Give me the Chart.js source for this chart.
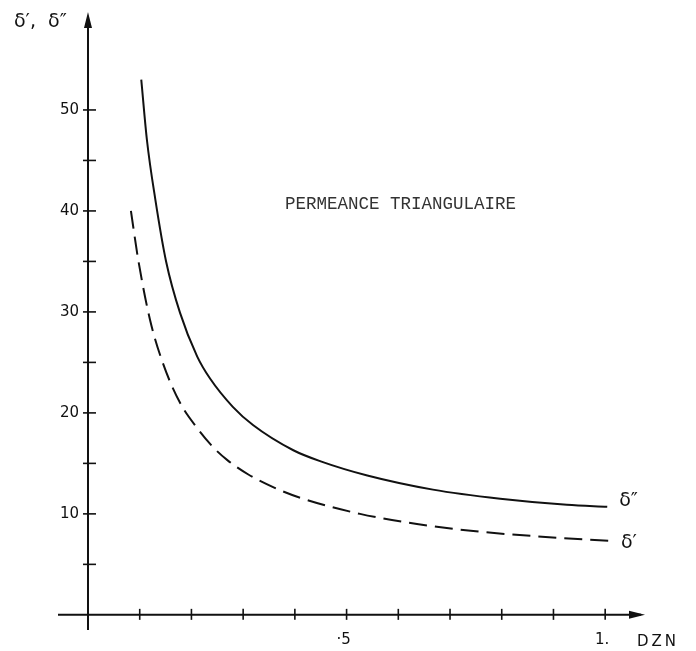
<!DOCTYPE html>
<html>
<head>
<meta charset="utf-8">
<script src="https://cdn.jsdelivr.net/npm/chart.js@4/dist/chart.umd.min.js"></script>
<style>
  html, body { margin: 0; padding: 0; background: #fff; }
  #wrap { width: 696px; height: 651px; }
</style>
</head>
<body>
<div id="wrap"><canvas id="chart"></canvas></div>
<script>
// DZN values and sigma curves
const dznSecond = [0.103, 0.114, 0.130, 0.151, 0.178, 0.211, 0.236, 0.280, 0.319, 0.397, 0.450, 0.540, 0.667, 0.797, 0.926, 1.004];
const sigmaSecond = [53.0, 47.0, 41.2, 35.0, 29.9, 25.6, 23.4, 20.6, 18.8, 16.3, 15.2, 13.8, 12.4, 11.5, 10.9, 10.7];
const dznPrime = [0.083, 0.097, 0.120, 0.145, 0.178, 0.211, 0.242, 0.270, 0.310, 0.360, 0.410, 0.526, 0.636, 0.745, 0.861, 1.015];
const sigmaPrime = [40.0, 35.2, 29.2, 24.9, 21.0, 18.5, 16.6, 15.3, 13.9, 12.6, 11.6, 10.0, 9.0, 8.3, 7.8, 7.3];

const yTicks = [5, 10, 15, 20, 25, 30, 35, 40, 45, 50];
const yLabels = ['', '10', '', '20', '', '30', '', '40', '', '50'];
const xTicks = [0.1, 0.2, 0.3, 0.4, 0.5, 0.6, 0.7, 0.8, 0.9, 1.0];
const xLabels = ['', '', '', '', '·5', '', '', '', '', '1.'];

const toPoints = (xs, ys) => xs.map((x, i) => ({ x: x, y: ys[i] }));

const ink = '#111';

const axesPlugin = {
    id: 'handAxes',
    afterDatasetsDraw(chart) {
        const { ctx } = chart;
        const xs = chart.scales.x, ys = chart.scales.y;
        const x0 = xs.getPixelForValue(0), y0 = ys.getPixelForValue(0);
        const left = chart.chartArea.left, right = chart.chartArea.right;
        const top = chart.chartArea.top, bottom = chart.chartArea.bottom;
        ctx.save();
        ctx.strokeStyle = ink;
        ctx.fillStyle = ink;
        ctx.lineWidth = 2;
        // axes
        ctx.beginPath();
        ctx.moveTo(left, y0); ctx.lineTo(right - 4, y0);
        ctx.moveTo(x0, bottom); ctx.lineTo(x0, top + 4);
        ctx.stroke();
        // arrow heads
        ctx.beginPath();
        ctx.moveTo(right, y0); ctx.lineTo(right - 16, y0 - 4); ctx.lineTo(right - 16, y0 + 4); ctx.closePath();
        ctx.moveTo(x0, top); ctx.lineTo(x0 - 4, top + 16); ctx.lineTo(x0 + 4, top + 16); ctx.closePath();
        ctx.fill();
        // y ticks + labels
        ctx.lineWidth = 1.6;
        ctx.font = '15px "DejaVu Sans"';
        ctx.textAlign = 'right';
        ctx.textBaseline = 'middle';
        yTicks.forEach((v, i) => {
            const py = ys.getPixelForValue(v);
            ctx.beginPath();
            ctx.moveTo(x0 - 5, py); ctx.lineTo(x0 + 8, py);
            ctx.stroke();
            if (yLabels[i]) ctx.fillText(yLabels[i], x0 - 9, py);
        });
        // x ticks + labels
        ctx.textAlign = 'center';
        ctx.textBaseline = 'top';
        xTicks.forEach((v, i) => {
            const px = xs.getPixelForValue(v);
            ctx.beginPath();
            ctx.moveTo(px, y0 - 6); ctx.lineTo(px, y0 + 5);
            ctx.stroke();
            if (xLabels[i]) ctx.fillText(xLabels[i], px - 3, y0 + 18);
        });
        ctx.textAlign = 'left';
        ctx.letterSpacing = '3px';
        ctx.fillText('DZN', 637, y0 + 20);
        ctx.letterSpacing = '0px';
        // axis title and curve labels
        ctx.font = '19px "DejaVu Sans"';
        ctx.textBaseline = 'middle';
        ctx.fillText("δ\u2032,  δ\u2033", 14, 22);
        ctx.font = '19px "DejaVu Sans"';
        const endS = dznSecond.length - 1, endP = dznPrime.length - 1;
        ctx.fillText("δ\u2033", xs.getPixelForValue(dznSecond[endS]) + 12, ys.getPixelForValue(sigmaSecond[endS]) - 6);
        ctx.fillText("δ\u2032", xs.getPixelForValue(dznPrime[endP]) + 8, ys.getPixelForValue(sigmaPrime[endP]) + 2);
        // inner title
        ctx.font = '17.5px "Liberation Mono"';
        ctx.fillStyle = '#333';
        ctx.fillText('PERMEANCE TRIANGULAIRE', 285, 204);
        ctx.restore();
    }
};

new Chart(document.getElementById('chart'), {
    type: 'scatter',
    data: {
        datasets: [
            {
                label: "δ''",
                data: toPoints(dznSecond, sigmaSecond),
                showLine: true,
                borderColor: ink,
                borderWidth: 2,
                pointRadius: 0,
                cubicInterpolationMode: 'monotone'
            },
            {
                label: "δ'",
                data: toPoints(dznPrime, sigmaPrime),
                showLine: true,
                borderColor: ink,
                borderWidth: 2,
                borderDash: [18, 8],
                pointRadius: 0,
                cubicInterpolationMode: 'monotone'
            }
        ]
    },
    options: {
        responsive: true,
        maintainAspectRatio: false,
        animation: false,
        layout: { padding: { left: 58, right: 51, top: 12, bottom: 21 } },
        plugins: { legend: { display: false }, tooltip: { enabled: false } },
        scales: {
            x: { type: 'linear', min: -0.058, max: 1.077, display: false },
            y: { type: 'linear', min: -1.5, max: 59.7, display: false }
        }
    },
    plugins: [axesPlugin]
});
</script>
</body>
</html>
